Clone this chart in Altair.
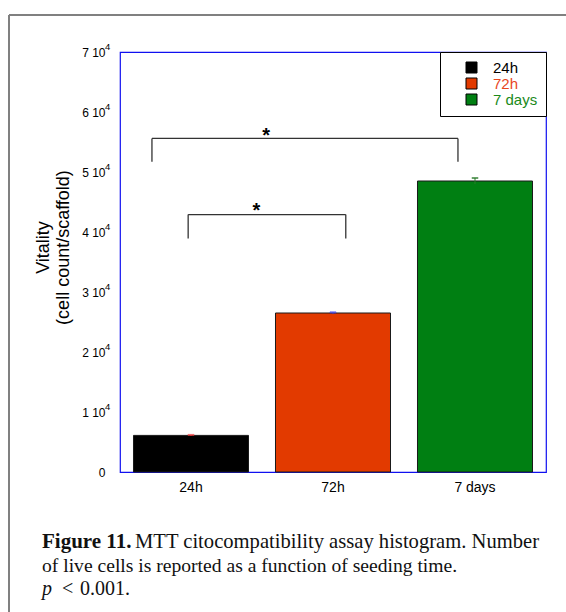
import altair as alt
import pandas as pd

# ---- data ----
categories = ["24h", "72h", "7 days"]
vitality = [6100, 26500, 48500]
errors = [80, 100, 500]

bar_colors = ["#000000", "#E23A00", "#007F12"]
legend_label_colors = ["#000000", "#E8461E", "#1A8A1A"]
err_colors = ["#FF3A3A", "#3A3AFF", "#2A7A2A"]

# significance brackets in category units (bar centres at 0.5, 1.5, 2.5)
br_start = [0.225, 0.48]
br_end = [2.38, 1.59]
br_top = [55600, 42900]
br_bottom = [51700, 38900]
star_x = [1.03, 0.96]
star_y = [57600, 45100]

y_ticks = [0, 10000, 20000, 30000, 40000, 50000, 60000, 70000]
y_exp_ticks = [t for t in y_ticks if t > 0]

df = pd.DataFrame({
    "cat": categories,
    "v": vitality,
    "lo": [v - e for v, e in zip(vitality, errors)],
    "hi": [v + e for v, e in zip(vitality, errors)],
})
br = pd.DataFrame({"x1": br_start, "x2": br_end, "top": br_top, "bot": br_bottom})
stars = pd.DataFrame({"x": star_x, "y": star_y, "t": ["*", "*"]})
exps = pd.DataFrame({"y": y_exp_ticks, "t": ["4"] * len(y_exp_ticks)})

W, H = 426, 420
FONT = "Liberation Sans"
SERIF = "Liberation Serif"

yscale = alt.Scale(domain=[0, 70000], nice=False, zero=True)
xband = alt.Scale(domain=categories, paddingInner=0.19, paddingOuter=0.095)
xq = alt.Scale(domain=[0, 3], nice=False, zero=False)

label_color_expr = (
    "datum.label == '72h' ? '%s' : datum.label == '7 days' ? '%s' : '%s'"
    % (legend_label_colors[1], legend_label_colors[2], legend_label_colors[0])
)
err_color_expr = (
    "datum.cat == '72h' ? '%s' : datum.cat == '7 days' ? '%s' : '%s'"
    % (err_colors[1], err_colors[2], err_colors[0])
)

bars = alt.Chart(df).mark_bar(stroke="#1a1a1a", strokeWidth=1).encode(
    x=alt.X("cat:N", scale=xband, sort=categories,
            axis=alt.Axis(title=None, labelAngle=0, ticks=False, tickSize=0, domain=False,
                          labelFont=FONT, labelFontSize=14, labelPadding=8, labelColor="#000")),
    y=alt.Y("v:Q", scale=yscale,
            axis=alt.Axis(values=y_ticks, ticks=False, tickSize=0, domain=False, grid=False,
                          labelExpr="datum.value == 0 ? '0\u00a0' : format(datum.value/10000, 'd') + ' 10'",
                          labelFont=FONT, labelFontSize=12, labelPadding=15, labelColor="#000",
                          title=["Vitality", "(cell count/scaffold)"], titleFont=FONT,
                          titleFontSize=18, titleFontWeight="normal", titleColor="#000",
                          titlePadding=9, titleY=195)),
    color=alt.Color("cat:N", scale=alt.Scale(domain=categories, range=bar_colors),
                    legend=alt.Legend(title=None, orient="top-right", offset=0,
                                      strokeColor="#000", fillColor="white", padding=8,
                                      symbolType="square", symbolSize=121,
                                      symbolStrokeColor="#000", symbolStrokeWidth=1,
                                      labelFont=FONT, labelFontSize=15, labelOffset=14,
                                      symbolOffset=16, rowPadding=0,
                                      labelColor={"expr": label_color_expr})),
)

err = alt.Chart(df).transform_calculate(ecol=err_color_expr).mark_rule(strokeWidth=1).encode(
    x=alt.X("cat:N", scale=xband, sort=categories),
    y=alt.Y("lo:Q", scale=yscale),
    y2="hi:Q",
    stroke=alt.Stroke("ecol:N", scale=None),
)
err_caps_hi = alt.Chart(df).transform_calculate(ecol=err_color_expr).mark_tick(thickness=1, size=6).encode(
    x=alt.X("cat:N", scale=xband, sort=categories),
    y=alt.Y("hi:Q", scale=yscale),
    stroke=alt.Stroke("ecol:N", scale=None),
)

# superscript exponent of the y tick labels ("N 10^4")
exp_text = alt.Chart(exps).mark_text(font=FONT, fontSize=9.5, align="left", baseline="middle",
                                     dy=-5, color="#000").encode(
    x=alt.value(-15), y=alt.Y("y:Q", scale=yscale), text="t:N")

br_h = alt.Chart(br).mark_rule(color="#333", strokeWidth=1.3).encode(
    x=alt.X("x1:Q", scale=xq, axis=None), x2="x2:Q", y=alt.Y("top:Q", scale=yscale))
br_l = alt.Chart(br).mark_rule(color="#333", strokeWidth=1.3).encode(
    x=alt.X("x1:Q", scale=xq, axis=None), y=alt.Y("bot:Q", scale=yscale), y2="top:Q")
br_r = alt.Chart(br).mark_rule(color="#333", strokeWidth=1.3).encode(
    x=alt.X("x2:Q", scale=xq, axis=None), y=alt.Y("bot:Q", scale=yscale), y2="top:Q")
star_text = alt.Chart(stars).mark_text(font=FONT, fontSize=20, fontWeight="bold",
                                       baseline="top", color="#000").encode(
    x=alt.X("x:Q", scale=xq, axis=None), y=alt.Y("y:Q", scale=yscale), text="t:N")

one = alt.Data(values=[{"a": 1}])
frame_v = alt.Chart(one).mark_rule(color="#808080", strokeWidth=2).encode(
    x=alt.value(-111), y=alt.value(-37), y2=alt.value(H + 140))
frame_h = alt.Chart(one).mark_rule(color="#808080", strokeWidth=2).encode(
    x=alt.value(-111), x2=alt.value(W + 30), y=alt.value(-37))

cap_style = dict(font=SERIF, align="left", baseline="alphabetic", color="#111")
cap1a = alt.Chart(one).mark_text(text="Figure 11.", fontWeight="bold", fontSize=21, **cap_style).encode(
    x=alt.value(-78), y=alt.value(496))
cap1b = alt.Chart(one).mark_text(text="MTT citocompatibility assay histogram. Number",
                                 fontSize=20.6, **cap_style).encode(x=alt.value(15), y=alt.value(496))
cap2 = alt.Chart(one).mark_text(text="of live cells is reported as a function of seeding time.",
                                fontSize=19.6, **cap_style).encode(x=alt.value(-78), y=alt.value(520))
cap3a = alt.Chart(one).mark_text(text="p", fontStyle="italic", fontSize=20, **cap_style).encode(
    x=alt.value(-78), y=alt.value(543))
cap3b = alt.Chart(one).mark_text(text="<", fontSize=20, **cap_style).encode(
    x=alt.value(-58), y=alt.value(543))
cap3c = alt.Chart(one).mark_text(text="0.001.", fontSize=20, **cap_style).encode(
    x=alt.value(-40), y=alt.value(543))

main = alt.layer(bars, err, err_caps_hi, exp_text)
ann = alt.layer(br_h, br_l, br_r, star_text)
deco = alt.layer(frame_v, frame_h, cap1a, cap1b, cap2, cap3a, cap3b, cap3c)

chart = alt.layer(main, ann, deco).resolve_scale(x="independent").properties(
    width=W, height=H,
    autosize=alt.AutoSizeParams(type="none"),
    padding={"left": 120, "top": 52, "right": 20, "bottom": 140},
    background="white",
).configure_view(stroke="#1010F0", strokeWidth=1.2)

chart.save("out.html", embed_options={"renderer": "svg", "actions": False})
